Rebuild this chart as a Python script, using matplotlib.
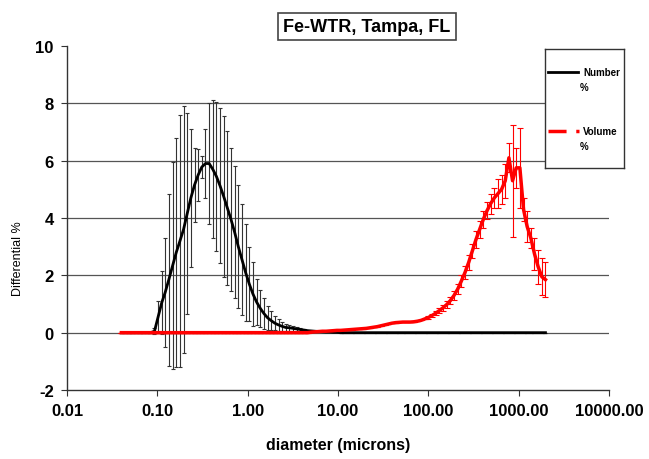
import numpy as np
import matplotlib.pyplot as plt
from matplotlib.ticker import NullLocator

plt.rcParams['font.family'] = ['Liberation Sans', 'DejaVu Sans']
plt.rcParams['axes.unicode_minus'] = False
plt.rcParams['lines.scale_dashes'] = False

# particle size channels (microns)
diameter = [0.040, 0.044, 0.048, 0.053, 0.058, 0.064, 0.070, 0.077, 0.084, 0.093,
            0.102, 0.112, 0.122, 0.134, 0.148, 0.162, 0.178, 0.195, 0.214, 0.235,
            0.258, 0.283, 0.311, 0.341, 0.375, 0.411, 0.451, 0.495, 0.543, 0.596,
            0.654, 0.718, 0.788, 0.865, 0.949, 1.042, 1.144, 1.255, 1.378, 1.512,
            1.660, 1.822, 2.000, 2.195, 2.410, 2.645, 2.903, 3.187, 3.498, 3.839,
            4.214, 4.626, 5.078, 5.574, 6.119, 6.716, 7.372, 8.093, 8.883, 9.750,
            10.70, 11.75, 12.90, 14.16, 15.54, 17.06, 18.73, 20.56, 22.56, 24.77,
            27.19, 29.84, 32.76, 35.96, 39.47, 43.33, 47.56, 52.20, 57.30, 62.90,
            69.05, 75.79, 83.20, 91.33, 100.3, 110.1, 120.8, 132.6, 145.6, 159.8,
            175.4, 192.6, 211.4, 232.0, 254.7, 279.6, 306.9, 336.9, 369.8, 405.9,
            445.6, 489.1, 536.9, 589.5, 647.0, 710.2, 779.7, 855.9, 939.5, 1031,
            1132, 1242, 1364, 1497, 1643, 1804, 1980]

number_pct = [0, 0, 0, 0, 0, 0, 0, 0, 0, 0.05,
              0.55, 1.05, 1.4, 1.85, 2.35, 2.8, 3.2, 3.6, 4.15, 4.7,
              5.15, 5.5, 5.78, 5.9, 5.9, 5.7, 5.45, 5.12, 4.75, 4.35,
              3.95, 3.5, 3.0, 2.55, 2.1, 1.7, 1.35, 1.07, 0.85, 0.67,
              0.52, 0.42, 0.33, 0.27, 0.22, 0.18, 0.17, 0.15, 0.13, 0.11,
              0.09, 0.07, 0.06, 0.05, 0.04, 0.03, 0.02, 0.02, 0.01, 0.01,
              0, 0, 0, 0, 0, 0, 0, 0, 0, 0,
              0, 0, 0, 0, 0, 0, 0, 0, 0, 0,
              0, 0, 0, 0, 0, 0, 0, 0, 0, 0,
              0, 0, 0, 0, 0, 0, 0, 0, 0, 0,
              0, 0, 0, 0, 0, 0, 0, 0, 0, 0,
              0, 0, 0, 0, 0, 0, 0]

number_err = [0, 0, 0, 0, 0, 0, 0, 0, 0, 0.1,
              0.55, 1.1, 1.9, 3.0, 3.6, 4.0, 4.4, 4.3, 3.5, 2.4,
              1.3, 0.9, 0.4, 1.2, 2.1, 2.4, 2.6, 2.7, 2.8, 2.7,
              2.5, 2.3, 2.15, 1.95, 1.7, 1.3, 1.1, 0.8, 0.65, 0.55,
              0.42, 0.32, 0.25, 0.2, 0.16, 0.13, 0.1, 0.08, 0.06, 0.05,
              0.04, 0, 0, 0, 0, 0, 0, 0, 0, 0,
              0, 0, 0, 0, 0, 0, 0, 0, 0, 0,
              0, 0, 0, 0, 0, 0, 0, 0, 0, 0,
              0, 0, 0, 0, 0, 0, 0, 0, 0, 0,
              0, 0, 0, 0, 0, 0, 0, 0, 0, 0,
              0, 0, 0, 0, 0, 0, 0, 0, 0, 0,
              0, 0, 0, 0, 0, 0, 0]

volume_pct = [0, 0, 0, 0, 0, 0, 0, 0, 0, 0,
              0, 0, 0, 0, 0, 0, 0, 0, 0, 0,
              0, 0, 0, 0, 0, 0, 0, 0, 0, 0,
              0, 0, 0, 0, 0, 0, 0, 0, 0, 0,
              0, 0, 0, 0, 0, 0, 0, 0, 0, 0,
              0, 0, 0.02, 0.03, 0.04, 0.05, 0.05, 0.06, 0.07, 0.08,
              0.08, 0.09, 0.10, 0.11, 0.12, 0.13, 0.14, 0.15, 0.17, 0.19,
              0.21, 0.24, 0.27, 0.30, 0.33, 0.35, 0.36, 0.37, 0.37, 0.37,
              0.38, 0.40, 0.43, 0.48, 0.53, 0.60, 0.68, 0.77, 0.87, 0.98,
              1.12, 1.30, 1.52, 1.80, 2.10, 2.45, 2.85, 3.25, 3.60, 3.95,
              4.25, 4.50, 4.70, 4.85, 5.00, 5.30, 6.10, 5.30, 5.75, 5.75,
              4.30, 3.70, 3.30, 2.75, 2.30, 1.95, 1.85]

volume_err = [0, 0, 0, 0, 0, 0, 0, 0, 0, 0,
              0, 0, 0, 0, 0, 0, 0, 0, 0, 0,
              0, 0, 0, 0, 0, 0, 0, 0, 0, 0,
              0, 0, 0, 0, 0, 0, 0, 0, 0, 0,
              0, 0, 0, 0, 0, 0, 0, 0, 0, 0,
              0, 0, 0, 0, 0, 0, 0, 0, 0, 0,
              0, 0, 0, 0, 0, 0, 0, 0, 0, 0,
              0, 0, 0, 0, 0, 0, 0, 0, 0, 0,
              0, 0, 0, 0, 0.05, 0.06, 0.07, 0.08, 0.10, 0.12,
              0.13, 0.15, 0.17, 0.20, 0.22, 0.25, 0.25, 0.28, 0.30, 0.30,
              0.30, 0.35, 0.35, 0.50, 0.50, 0.60, 0.50, 1.95, 0.70, 1.40,
              0.40, 0.55, 0.35, 0.55, 0.60, 0.65, 0.60]

x_ticks = [0.01, 0.1, 1, 10, 100, 1000, 10000]
x_tick_labels = ['0.01', '0.10', '1.00', '10.00', '100.00', '1000.00', '10000.00']
y_ticks = [-2, 0, 2, 4, 6, 8, 10]
grid_levels = [0, 2, 4, 6, 8]

fig = plt.figure(figsize=(6.49, 4.60), dpi=100)
ax = fig.add_axes([67 / 649, 69 / 460, 542 / 649, 344 / 460])

for g in grid_levels:
    ax.axhline(g, color='#555555', lw=0.9, zorder=0)

# number % with error bars
ax.errorbar(diameter, number_pct, yerr=number_err, fmt='none', ecolor='#333333',
            elinewidth=0.8, capsize=1.4, capthick=0.8, zorder=2)
ax.plot(diameter, number_pct, color='black', lw=2, zorder=3)

# volume % with error bars
ax.plot(diameter, volume_pct, color='#ff0000', lw=2.5, zorder=4)
ax.errorbar(diameter, volume_pct, yerr=volume_err, fmt='none', ecolor='#ff0000',
            elinewidth=0.8, capsize=2.2, capthick=0.8, zorder=5)

ax.set_xscale('log')
ax.set_xlim(0.01, 10000)
ax.set_ylim(-2, 10)
ax.set_xticks(x_ticks)
ax.set_xticklabels(x_tick_labels)
ax.xaxis.set_minor_locator(NullLocator())
ax.set_yticks(y_ticks)

for side in ['top', 'right']:
    ax.spines[side].set_visible(False)
for side in ['left', 'bottom']:
    ax.spines[side].set_color('#333333')
    ax.spines[side].set_linewidth(1)

ax.tick_params(axis='both', direction='out', length=4.5, width=0.8, color='#333333',
               labelsize=12)
ax.tick_params(axis='x', pad=5)
ax.tick_params(axis='y', pad=5)
for lbl in ax.get_xticklabels() + ax.get_yticklabels():
    lbl.set_fontweight('bold')

ax.set_xlabel('diameter (microns)', fontsize=11.5, fontweight='bold')
ax.xaxis.set_label_coords(0.5, -0.137)

fig.text(18 / 649, 1 - 259 / 460, 'Differential %', rotation=90, ha='center',
         va='center', fontsize=9)

fig.text(367 / 649, 1 - 27.5 / 460, 'Fe-WTR, Tampa, FL', ha='center', va='center',
         fontsize=13, fontweight='bold',
         bbox=dict(boxstyle='square,pad=0.3', fc='white', ec='#444444', lw=1.2))

# legend box
lax = fig.add_axes([545 / 649, 1 - 169 / 460, 79 / 649, 119 / 460], zorder=10)
lax.set_xlim(0, 1)
lax.set_ylim(0, 1)
lax.set_xticks([])
lax.set_yticks([])
for sp in lax.spines.values():
    sp.set_color('#333333')
    sp.set_linewidth(1)
lax.plot([0.04, 0.42], [0.807, 0.807], color='black', lw=2)
lax.text(0.48, 0.807, 'Number', va='center', fontsize=7, fontweight='bold')
lax.text(0.44, 0.68, '%', va='center', fontsize=7, fontweight='bold')
lax.plot([0.04, 0.43], [0.313, 0.313], color='#ff0000', lw=2.5, dashes=(13, 7, 2.5, 7))
lax.text(0.48, 0.313, 'Volume', va='center', fontsize=7, fontweight='bold')
lax.text(0.44, 0.187, '%', va='center', fontsize=7, fontweight='bold')

fig.savefig('out.png', dpi=100)
